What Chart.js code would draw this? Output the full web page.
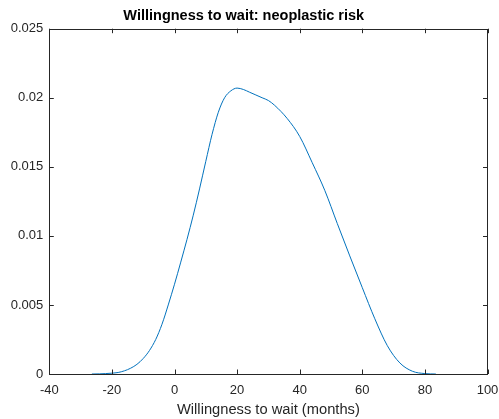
<!DOCTYPE html>
<html>
<head>
<meta charset="utf-8">
<script src="https://cdn.jsdelivr.net/npm/chart.js@4/dist/chart.umd.min.js"></script>
<style>
  html, body { margin: 0; padding: 0; background: #fff; }
  #wrap { width: 499px; height: 419px; }
</style>
</head>
<body>
<div id="wrap"><canvas id="densityChart" width="499" height="419"></canvas></div>
<script>
  // kernel density estimate, months vs density
  const months = [-26.4, -24, -22, -20, -18, -16, -14, -12, -10, -8, -6, -4, -2, 0, 2, 4, 6, 8, 10, 12, 14, 16, 18, 20, 22, 24, 26, 28, 30, 32, 36, 40, 44, 48, 52, 56, 60, 64, 68, 72, 76, 80, 83.5];
  const density = [0, 0.00001, 0.00003, 0.00006, 0.00011, 0.00023, 0.00042, 0.0007, 0.00112, 0.0017, 0.0025, 0.0036, 0.0050, 0.0065, 0.0081, 0.00975, 0.0115, 0.0134, 0.0154, 0.01735, 0.01895, 0.0200, 0.0205, 0.0207, 0.0206, 0.0204, 0.0202, 0.0200, 0.0198, 0.01945, 0.0185, 0.0172, 0.0153, 0.0133, 0.0109, 0.00855, 0.00625, 0.0040, 0.00205, 0.0008, 0.0002, 0.00003, 0];
  const xTicks = [-40, -20, 0, 20, 40, 60, 80, 100];
  const yTicks = [0, 0.005, 0.01, 0.015, 0.02, 0.025];

  const axisColor = "#262626";
  const fontFamily = "Helvetica, Arial, 'Liberation Sans', sans-serif";

  // box around the axes with inward tick marks on all four sides
  const boxAxes = {
    id: "boxAxes",
    afterDraw(chart) {
      const { ctx, chartArea: a, scales } = chart;
      const len = 4.5;
      ctx.save();
      ctx.strokeStyle = axisColor;
      ctx.lineWidth = 1;
      ctx.beginPath();
      xTicks.forEach((t) => {
        const px = Math.round(scales.x.getPixelForValue(t)) + 0.5;
        ctx.moveTo(px, a.bottom);
        ctx.lineTo(px, a.bottom - len);
        ctx.moveTo(px, a.top);
        ctx.lineTo(px, a.top + len);
      });
      yTicks.forEach((t) => {
        const py = Math.round(scales.y.getPixelForValue(t)) + 0.5;
        ctx.moveTo(a.left, py);
        ctx.lineTo(a.left + len, py);
        ctx.moveTo(a.right, py);
        ctx.lineTo(a.right - len, py);
      });
      ctx.stroke();
      ctx.strokeRect(Math.round(a.left) + 0.5, Math.round(a.top) + 0.5,
        Math.round(a.right - a.left), Math.round(a.bottom - a.top));
      ctx.restore();
    }
  };

  new Chart(document.getElementById("densityChart"), {
    type: "line",
    data: {
      datasets: [{
        data: months.map((m, i) => ({ x: m, y: density[i] })),
        borderColor: "#0072BD",
        borderWidth: 1,
        pointRadius: 0,
        fill: false,
        cubicInterpolationMode: "monotone"
      }]
    },
    options: {
      responsive: false,
      animation: false,
      layout: { padding: { left: 0, right: 11.5, top: 0, bottom: 0 } },
      plugins: {
        legend: { display: false },
        tooltip: { enabled: false },
        title: {
          display: true,
          text: "Willingness to wait: neoplastic risk",
          color: "#000",
          font: { family: fontFamily, size: 14.5, weight: "bold" },
          padding: { top: 7, bottom: 4.3 }
        }
      },
      scales: {
        x: {
          type: "linear",
          min: -40,
          max: 100,
          afterBuildTicks: (s) => { s.ticks = xTicks.map((v) => ({ value: v })); },
          afterFit: (s) => { s.height = 45; s.paddingLeft = 0; s.paddingRight = 0; },
          grid: { display: false, drawTicks: false },
          border: { display: false },
          ticks: { color: axisColor, font: { family: fontFamily, size: 13 }, padding: 9, maxRotation: 0 },
          title: {
            display: true,
            text: "Willingness to wait (months)",
            color: axisColor,
            font: { family: fontFamily, size: 14.7 },
            padding: { top: 0, bottom: 0 }
          }
        },
        y: {
          min: 0,
          max: 0.025,
          afterBuildTicks: (s) => { s.ticks = yTicks.map((v) => ({ value: v })); },
          afterFit: (s) => { s.width = 49.3; s.paddingTop = 0; s.paddingBottom = 0; },
          grid: { display: false, drawTicks: false },
          border: { display: false },
          ticks: {
            color: axisColor,
            font: { family: fontFamily, size: 13 },
            padding: 6,
            callback: (v) => String(+v.toFixed(3))
          }
        }
      }
    },
    plugins: [boxAxes]
  });
</script>
</body>
</html>
